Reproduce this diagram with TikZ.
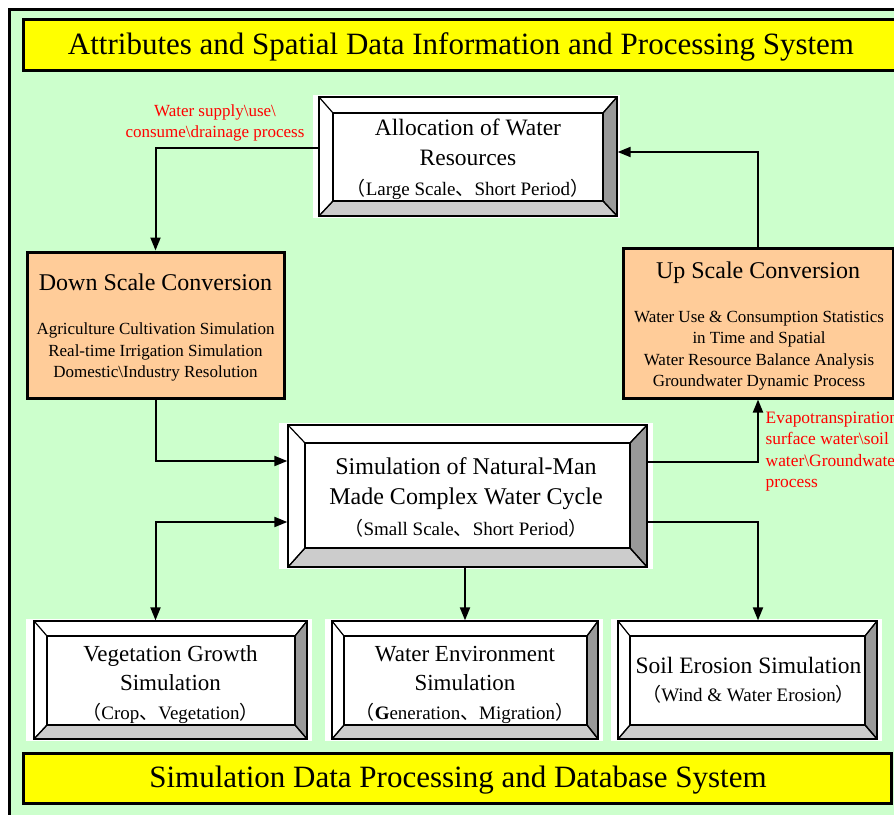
\documentclass[tikz,border=0pt]{standalone}
\usepackage{fontspec}
\setmainfont{Liberation Serif}
\newfontfamily\cjk{Noto Sans CJK SC}
\usetikzlibrary{arrows.meta}

% full-width punctuation
\newcommand\zlp{{\cjk （}}
\newcommand\zrp{{\cjk ）}}
\newcommand\zdun{{\cjk 、}}

\definecolor{bggreen}{HTML}{CCFFCC}
\definecolor{bannery}{HTML}{FFFF00}
\definecolor{peach}{HTML}{FFCC99}
\definecolor{bevdark}{HTML}{999999}
\definecolor{bevlight}{HTML}{CCCCCC}
\definecolor{notered}{HTML}{FF0000}

\tikzset{
  banner/.style={draw=black, line width=3pt, fill=bannery, inner sep=0pt},
  bannertext/.style={font=\fontsize{31}{36}\selectfont, inner sep=0pt},
  convbox/.style={draw=black, line width=3pt, fill=peach, inner sep=0pt},
  convtitle/.style={font=\fontsize{24}{28}\selectfont, inner sep=0pt},
  convlines/.style={font=\fontsize{17}{21.4}\selectfont, align=center, inner sep=0pt},
  % raised panel: left, top, right, bottom bevel widths
  bevelbox/.style n args={4}{draw=black, line width=1.3pt, fill=white,
    inner sep=0pt,
    path picture={
      \coordinate (pNW) at (path picture bounding box.north west);
      \coordinate (pSE) at (path picture bounding box.south east);
      \coordinate (pNE) at (pSE |- pNW);
      \coordinate (pSW) at (pNW |- pSE);
      \coordinate (iNW) at ([shift={(#1pt,-#2pt)}]pNW);
      \coordinate (iNE) at ([shift={(-#3pt,-#2pt)}]pNE);
      \coordinate (iSE) at ([shift={(-#3pt,#4pt)}]pSE);
      \coordinate (iSW) at ([shift={(#1pt,#4pt)}]pSW);
      \filldraw[line width=1.2pt, fill=bevdark] (pNE) -- (pSE) -- (iSE) -- (iNE) -- cycle;
      \filldraw[line width=1.2pt, fill=bevlight] (pSW) -- (pSE) -- (iSE) -- (iSW) -- cycle;
      \draw[line width=1.2pt] (pNW) -- (iNW) (pNE) -- (iNE) (pSE) -- (iSE) (pSW) -- (iSW);
      \draw[line width=1.2pt] (iNW) rectangle (iSE);
    }},
  paneltext/.style={align=center, inner sep=0pt},
  note/.style={text=notered, font=\fontsize{17}{20.5}\selectfont, inner sep=0pt},
  conn/.style={line width=2pt, -{Triangle[length=13pt,width=10pt]}},
  conn2/.style={line width=2pt, {Triangle[length=13pt,width=10pt]}-{Triangle[length=13pt,width=10pt]}},
}

\begin{document}
\begin{tikzpicture}[x=1pt,y=-1pt]
\useasboundingbox (0,0) rectangle (894,814);
\clip (0,0) rectangle (894,814);
\fill[white] (0,0) rectangle (894,814);

% outer frame
\draw[line width=3pt, fill=bggreen] (9.5,9.5) rectangle (910,830);

% system bars
\node[banner, minimum width=876pt, minimum height=51pt] (topbar) at (461,44.5) {};
\node[bannertext] (topbar-text) at (461,46.5)
  {Attributes and Spatial Data Information and Processing System};
\node[banner, minimum width=868pt, minimum height=50pt] (botbar) at (457,778) {};
\node[bannertext] (botbar-text) at (458,780.5)
  {Simulation Data Processing and Database System};

% white margins behind the panels
\fill[white] (313,95) rectangle (620,218);
\fill[white] (279,423) rectangle (653,569);
\fill[white] (26,619) rectangle (312,741);
\fill[white] (325,619) rectangle (603,741);
\fill[white] (611,619) rectangle (882,741);

% allocation
\node[bevelbox={14}{16}{14}{15}, minimum width=298pt, minimum height=119pt]
  (alloc) at (468,156.5) {};
\node[paneltext, font=\fontsize{23.5}{30}\selectfont] (alloc-text) at (468,159)
  {Allocation of Water\\Resources\\{\fontsize{19}{29}\selectfont\zlp Large Scale\zdun Short Period\zrp}};

% scale conversions
\node[convbox, minimum width=257pt, minimum height=146pt] (down) at (155.5,325) {};
\node[convtitle] (down-title) at (155.5,282) {Down Scale Conversion};
\node[convlines] (down-lines) at (155.5,352)
  {Agriculture Cultivation Simulation\\Real-time Irrigation Simulation\\Domestic\textbackslash Industry Resolution};

\node[convbox, minimum width=270pt, minimum height=150pt] (up) at (758,323) {};
\node[convtitle] (up-title) at (758,273) {Up Scale Conversion};
\node[convlines] (up-lines) at (759,350.5)
  {Water Use \& Consumption Statistics\\in Time and Spatial\\Water Resource Balance Analysis\\Groundwater Dynamic Process};

% water cycle simulation
\node[bevelbox={17}{18}{17}{19}, minimum width=359pt, minimum height=142pt]
  (sim) at (467.5,496) {};
\node[paneltext, font=\fontsize{24}{30.5}\selectfont] (sim-text) at (466,497)
  {Simulation of Natural-Man\\Made Complex Water Cycle\\{\fontsize{19}{29}\selectfont\zlp Small Scale\zdun Short Period\zrp}};

% process simulations
\node[bevelbox={13}{15}{12}{14}, minimum width=273pt, minimum height=118pt]
  (veg) at (170.5,680) {};
\node[paneltext, font=\fontsize{23}{29}\selectfont] (veg-text) at (170.5,685)
  {Vegetation Growth\\Simulation\\{\fontsize{19}{28}\selectfont\zlp Crop\zdun Vegetation\zrp}};
\node[bevelbox={12}{15}{11}{14}, minimum width=266pt, minimum height=118pt]
  (water) at (465,680) {};
\node[paneltext, font=\fontsize{23}{29}\selectfont] (water-text) at (465,685)
  {Water Environment\\Simulation\\{\fontsize{19}{28}\selectfont\zlp\textbf{G}eneration\zdun Migration\zrp}};
\node[bevelbox={12}{15}{12}{14}, minimum width=259pt, minimum height=118pt]
  (soil) at (747.5,680) {};
\node[paneltext, font=\fontsize{23.5}{28}\selectfont] (soil-text) at (748.5,680)
  {Soil Erosion Simulation\\{\fontsize{19}{28}\selectfont\zlp Wind \& Water Erosion\zrp}};

% connectors
\draw[conn] ([yshift=8.5pt]alloc.west) -| (down.north);
\draw[conn] (down.south) |- ([yshift=35pt]sim.west);
\draw[conn2] (down.south |- veg.north) |- ([yshift=-26pt]sim.west);
\draw[conn] ([yshift=34pt]sim.east) -| (up.south);
\draw[conn] (up.north) |- ([yshift=4.5pt]alloc.east);
\draw[conn] ([yshift=-26pt]sim.east) -| (up.south |- soil.north);
\draw[conn] (water.north |- sim.south) -- (water.north);

% flow notes
\node[note, align=center] (supply-note) at (215,123)
  {Water supply\textbackslash use\textbackslash\\consume\textbackslash drainage process};
\node[note, align=left, anchor=west, font=\fontsize{17.4}{21.3}\selectfont] (et-note) at (765.5,451.5)
  {Evapotranspiration\textbackslash\\surface water\textbackslash soil\\water\textbackslash Groundwater\\process};
\end{tikzpicture}
\end{document}
